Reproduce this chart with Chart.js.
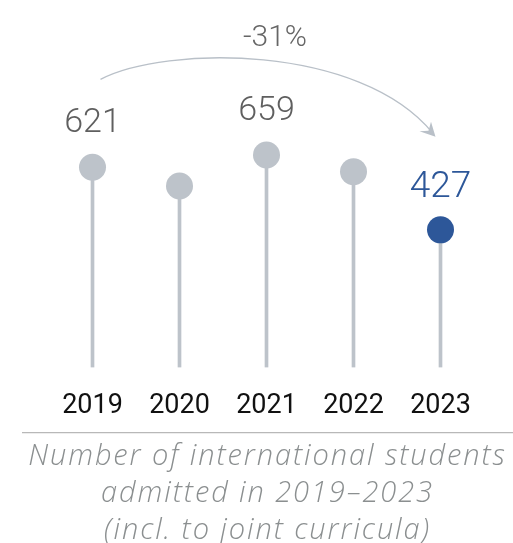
<!DOCTYPE html>
<html>
<head>
<meta charset="utf-8">
<script src="https://cdn.jsdelivr.net/npm/chart.js@4.4.1/dist/chart.umd.min.js"></script>
<style>
  html, body { margin: 0; padding: 0; background: #fff; }
  #wrap { width: 513px; height: 543px; }
</style>
</head>
<body>
<div id="wrap"><canvas id="chart" width="513" height="543"></canvas></div>
<script>
// admissions per year
const years = ['2019', '2020', '2021', '2022', '2023'];
const students = [621, 563, 659, 607, 427];
// which values get a number above the dot
const showValue = [true, false, true, false, true];
const caption = ['Number of international students', 'admitted in 2019–2023', '(incl. to joint curricula)'];

const GREY = '#bdc3ca';
const BLUE = '#2d5799';
const FONT = 'Roboto, "DejaVu Sans", sans-serif';
const CAPTION_FONT = '"Open Sans", Roboto, sans-serif';

const lastIdx = students.length - 1;
const dotColors = students.map((v, i) => i === lastIdx ? BLUE : GREY);

// numbers above the dots
const valueLabels = {
    id: 'valueLabels',
    afterDatasetsDraw(chart) {
        const ctx = chart.ctx;
        const pts = chart.getDatasetMeta(1).data;
        ctx.save();
        ctx.textAlign = 'center';
        ctx.textBaseline = 'alphabetic';
        pts.forEach((p, i) => {
            if (!showValue[i]) return;
            const last = i === lastIdx;
            ctx.font = (last ? '300 37px ' : '300 34px ') + FONT;
            ctx.fillStyle = last ? BLUE : '#5f5f5f';
            ctx.fillText(String(students[i]), p.x, p.y - (last ? 33 : 35));
        });
        ctx.restore();
    }
};

// curved arrow from first to last year with the change in percent
const changeArrow = {
    id: 'changeArrow',
    afterDatasetsDraw(chart) {
        const ctx = chart.ctx;
        const pts = chart.getDatasetMeta(1).data;
        const a = pts[0], b = pts[lastIdx];
        const x0 = a.x + 8, y0 = a.y - 88;
        const x3 = b.x - 5, y3 = b.y - 93;
        ctx.save();
        ctx.strokeStyle = '#b9c0c8';
        ctx.fillStyle = '#b9c0c8';
        ctx.lineWidth = 1.3;
        ctx.beginPath();
        ctx.moveTo(x0, y0);
        ctx.bezierCurveTo(x0 + 65, y0 - 34, x3 - 76, y3 - 93, x3 - 3, y3 - 4);
        ctx.stroke();
        // arrow head
        ctx.beginPath();
        ctx.moveTo(x3, y3);
        ctx.lineTo(x3 - 16, y3 - 5.5);
        ctx.lineTo(x3 - 7, y3 - 6);
        ctx.lineTo(x3 - 4.5, y3 - 15);
        ctx.closePath();
        ctx.fill();

        const pct = Math.round((students[lastIdx] - students[0]) / students[0] * 100);
        ctx.font = '300 30px ' + FONT;
        ctx.fillStyle = '#666';
        ctx.textAlign = 'center';
        ctx.textBaseline = 'alphabetic';
        ctx.fillText(pct + '%', (pts[2].x + pts[3].x) / 2 - 35, 45.5);
        ctx.restore();
    }
};

// thin rule between the years and the caption
const captionRule = {
    id: 'captionRule',
    afterDraw(chart) {
        const ctx = chart.ctx;
        const y = chart.scales.x.bottom - 11.8;
        ctx.save();
        ctx.strokeStyle = '#b8b8b8';
        ctx.lineWidth = 1.2;
        ctx.beginPath();
        ctx.moveTo(22, y);
        ctx.lineTo(chart.width, y);
        ctx.stroke();
        ctx.restore();
    }
};

// the caption is set a little wider than the font's default spacing
const captionSpacing = {
    id: 'captionSpacing',
    afterLayout(chart) {
        const title = chart.titleBlock;
        if (!title || title._spaced) return;
        const draw = title.draw.bind(title);
        title.draw = function () {
            chart.ctx.save();
            chart.ctx.letterSpacing = '1.9px';
            draw();
            chart.ctx.restore();
        };
        title._spaced = true;
    }
};

// empty side axes that only reserve room left and right of the plot
const sideAxis = (position, width) => ({
    position,
    min: 0,
    max: 1140,
    ticks: { display: false },
    grid: { display: false, drawTicks: false },
    border: { display: false },
    afterFit(scale) { scale.width = width; }
});

new Chart(document.getElementById('chart'), {
    data: {
        labels: years,
        datasets: [
            {
                type: 'bar',
                data: students,
                backgroundColor: GREY,
                barThickness: 3,
                order: 2
            },
            {
                type: 'line',
                data: students,
                showLine: false,
                pointRadius: 13.5,
                pointHoverRadius: 13.5,
                pointBackgroundColor: dotColors,
                pointBorderWidth: 0,
                order: 1
            }
        ]
    },
    options: {
        responsive: false,
        animation: false,
        events: [],
        layout: { autoPadding: false, padding: { left: 22, right: 0, top: 0, bottom: 0 } },
        plugins: {
            legend: { display: false },
            tooltip: { enabled: false },
            title: {
                display: true,
                position: 'bottom',
                text: caption,
                color: '#8b8f90',
                font: { family: CAPTION_FONT, size: 29, style: 'italic', weight: 300, lineHeight: 37 / 29 },
                padding: { top: -6.5, bottom: -6 }
            }
        },
        scales: {
            x: {
                grid: { display: false, drawTicks: false },
                border: { display: false },
                ticks: {
                    color: '#111',
                    font: { family: FONT, size: 27, weight: 400 },
                    padding: 22.3,
                    maxRotation: 0,
                    autoSkip: false
                }
            },
            y: sideAxis('left', 27),
            yRight: sideAxis('right', 29)
        }
    },
    plugins: [valueLabels, changeArrow, captionRule, captionSpacing]
});
</script>
</body>
</html>
